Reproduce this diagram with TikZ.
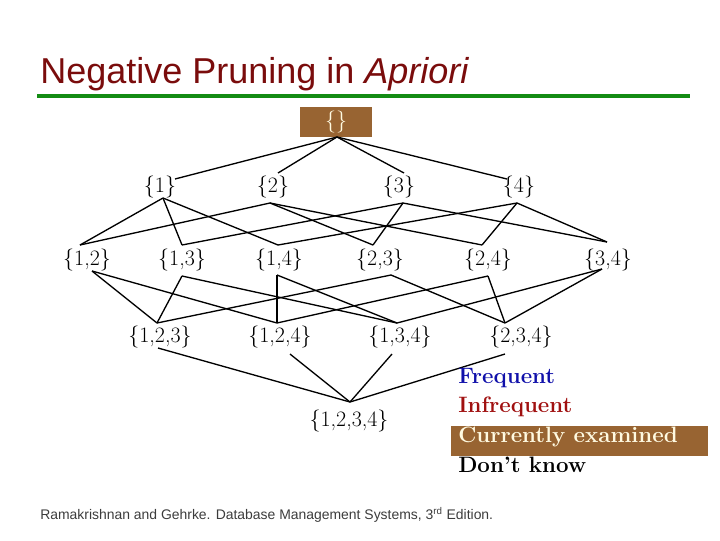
\documentclass[tikz,border=0pt]{standalone}
\usepackage{fontspec}
\newfontfamily\arialfont{Liberation Sans}
\definecolor{titlered}{RGB}{122,12,12}
\definecolor{rulegreen}{RGB}{20,140,20}
\definecolor{boxbrown}{RGB}{152,100,50}
\definecolor{freqblue}{RGB}{16,16,170}
\definecolor{infred}{RGB}{160,16,16}
\definecolor{cream}{RGB}{255,250,225}
\definecolor{footgray}{RGB}{60,60,60}
\begin{document}
\begin{tikzpicture}[x=0.75pt,y=-0.75pt,
  setnode/.style={font=\fontsize{16.5}{19}\selectfont, inner sep=0pt},
  edge/.style={line width=1pt, black},
  legend/.style={anchor=west, inner sep=0pt, font=\bfseries\fontsize{16.7}{19}\selectfont}]
\useasboundingbox (0,0) rectangle (720,540);
% title
\node[anchor=base west, inner sep=0pt, font=\arialfont\fontsize{27}{32}\selectfont, text=titlered] (title) at (40,83) {Negative Pruning in \textit{Apriori}};
\coordinate (rl) at (37,96);
\coordinate (rr) at (690,96);
\draw[rulegreen, line width=3pt] (rl) -- (rr);
% root
\node[fill=boxbrown, minimum width=54pt, minimum height=22.5pt, inner sep=0pt, text=cream, font=\fontsize{16.5}{19}\selectfont] (root) at (336,122) {\{\}};
\coordinate (rootb) at (337,137);
% level 1
\node[setnode] (n1) at (160,187) {\{1\}};
\node[setnode] (n2) at (273,187) {\{2\}};
\node[setnode] (n3) at (399,187) {\{3\}};
\node[setnode] (n4) at (519,187) {\{4\}};
\coordinate (n1t) at (175,179); \coordinate (n1b) at (163,198);
\coordinate (n2t) at (278,173); \coordinate (n2b) at (270,203);
\coordinate (n3t) at (404,173); \coordinate (n3b) at (403,203);
\coordinate (n4t) at (507,179); \coordinate (n4b) at (517,203);
% level 2
\node[setnode] (n12) at (87,260) {\{1,2\}};
\node[setnode] (n13) at (182,260) {\{1,3\}};
\node[setnode] (n14) at (279,260) {\{1,4\}};
\node[setnode] (n23) at (380,260) {\{2,3\}};
\node[setnode] (n24) at (488,260) {\{2,4\}};
\node[setnode] (n34) at (608,260) {\{3,4\}};
\coordinate (n12t) at (80,245);  \coordinate (n12b) at (92,271);
\coordinate (n13t) at (182,245); \coordinate (n13b) at (182,276);
\coordinate (n14t) at (278,245); \coordinate (n14b) at (277,275);
\coordinate (n23t) at (373,245); \coordinate (n23b) at (391,275);
\coordinate (n24t) at (482,245); \coordinate (n24b) at (488,276);
\coordinate (n34t) at (607,242); \coordinate (n34b) at (602,269);
% level 3
\node[setnode] (n123) at (160,337) {\{1,2,3\}};
\node[setnode] (n124) at (280,337) {\{1,2,4\}};
\node[setnode] (n134) at (400,337) {\{1,3,4\}};
\node[setnode] (n234) at (521,337) {\{2,3,4\}};
\coordinate (n123t) at (157,323); \coordinate (n123b) at (158,348);
\coordinate (n124t) at (277,323); \coordinate (n124b) at (290,354);
\coordinate (n134t) at (397,323); \coordinate (n134b) at (392,354);
\coordinate (n234t) at (505,323); \coordinate (n234b) at (505,354);
% level 4
\node[setnode] (n1234) at (349,421) {\{1,2,3,4\}};
\coordinate (n1234t) at (350,402);
% edges
\foreach \t in {n1t,n2t,n3t,n4t} \draw[edge] (rootb) -- (\t);
\foreach \a/\b in {n1b/n12t,n1b/n13t,n1b/n14t,
                   n2b/n12t,n2b/n23t,n2b/n24t,
                   n3b/n13t,n3b/n23t,n3b/n34t,
                   n4b/n14t,n4b/n24t,n4b/n34t,
                   n12b/n123t,n12b/n124t,
                   n13b/n123t,n13b/n134t,
                   n14b/n124t,n14b/n134t,
                   n23b/n123t,n23b/n234t,
                   n24b/n124t,n24b/n234t,
                   n34b/n134t,n34b/n234t,
                   n123b/n1234t,n124b/n1234t,n134b/n1234t,n234b/n1234t}
  \draw[edge] (\a) -- (\b);
% legend
\node[legend, text=freqblue] (lf) at (458,378) {Frequent};
\node[legend, text=infred] (li) at (458,407) {Infrequent};
\coordinate (cbl) at (451,426);
\coordinate (cbr) at (708,456);
\fill[boxbrown] (cbl) rectangle (cbr);
\node[legend, text=cream] (lc) at (458,437) {Currently examined};
\node[legend, text=black] (ld) at (458,465) {Don't know};
% footer
\node[anchor=base west, inner sep=0pt, font=\arialfont\fontsize{10.45}{12}\selectfont, text=footgray] (foot) at (40,519) {Ramakrishnan and Gehrke. Database Management Systems, 3\textsuperscript{rd} Edition.};
\end{tikzpicture}
\end{document}
